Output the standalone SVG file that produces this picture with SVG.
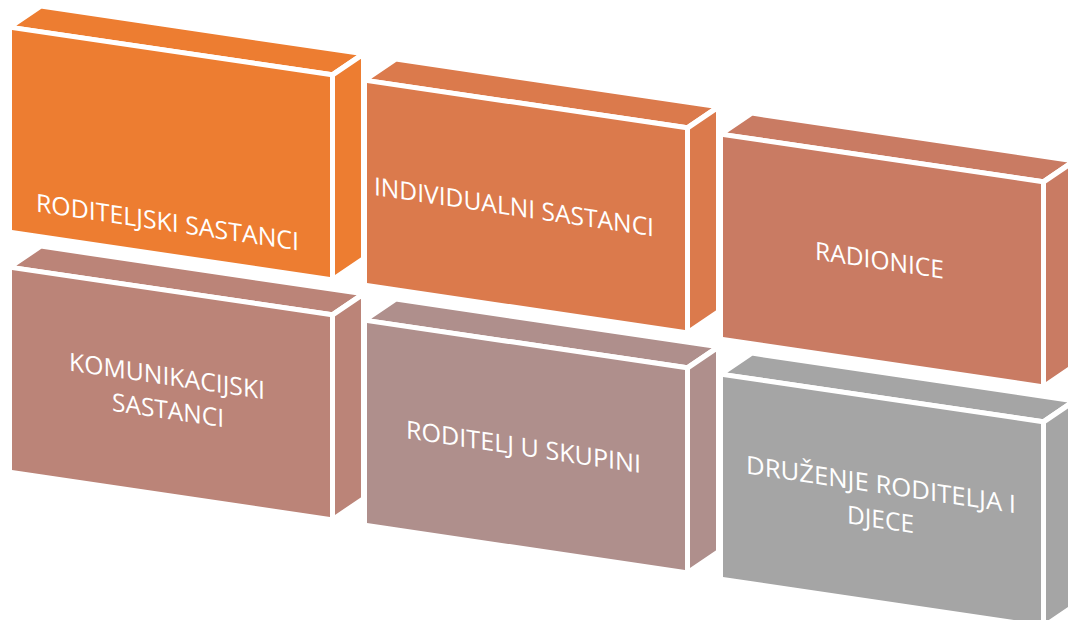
<svg xmlns="http://www.w3.org/2000/svg" width="1068" height="620" viewBox="0 0 1068 620">
  <style>
    .face { stroke: #FFFFFF; stroke-width: 5; stroke-linejoin: round; }
    .lbl { font-family: "Open Sans", "Liberation Sans", sans-serif; font-size: 25px; fill: #FFFFFF; text-anchor: middle; }
    .c1 { fill: #ED7D31; }
    .c2 { fill: #DB7A4C; }
    .c3 { fill: #C97B63; }
    .c4 { fill: #BB8478; }
    .c5 { fill: #AF8F8C; }
    .c6 { fill: #A5A5A5; }
  </style>
  <defs>
    <g id="boxShape">
      <polygon class="face" points="-2.5,-2.5 320.5,-2.5 351.5,-28.1 28.5,-28.1"/>
      <polygon class="face" points="320.5,-2.5 351.5,-28.1 351.5,176.9 320.5,202.5"/>
      <rect class="face" x="-2.5" y="-2.5" width="323" height="205"/>
    </g>
  </defs>
  <rect x="0" y="0" width="1068" height="620" fill="#FFFFFF"/>
  <g id="connectors"/>
  <g id="box4" class="c4" transform="matrix(1 0.1478 0 1 12 270)">
    <use href="#boxShape"/>
    <text class="lbl" x="155" y="92" textLength="196" lengthAdjust="spacingAndGlyphs">KOMUNIKACIJSKI</text>
    <text class="lbl" x="156" y="126" textLength="112" lengthAdjust="spacingAndGlyphs">SASTANCI</text>
  </g>
  <g id="box5" class="c5" transform="matrix(1 0.1478 0 1 367 323)">
    <use href="#boxShape"/>
    <text class="lbl" x="156.5" y="109.5" textLength="235" lengthAdjust="spacingAndGlyphs">RODITELJ U SKUPINI</text>
  </g>
  <g id="box6" class="c6" transform="matrix(1 0.1478 0 1 723 377)">
    <use href="#boxShape"/>
    <text class="lbl" x="158" y="93" textLength="270" lengthAdjust="spacingAndGlyphs">DRUŽENJE RODITELJA I</text>
    <text class="lbl" x="157.5" y="128" textLength="67" lengthAdjust="spacingAndGlyphs">DJECE</text>
  </g>
  <g id="box1" class="c1" transform="matrix(1 0.1478 0 1 12 30)">
    <use href="#boxShape"/>
    <text class="lbl" x="155.5" y="178" textLength="263" lengthAdjust="spacingAndGlyphs">RODITELJSKI SASTANCI</text>
  </g>
  <g id="box2" class="c2" transform="matrix(1 0.1478 0 1 367 83)">
    <use href="#boxShape"/>
    <text class="lbl" x="147" y="111" textLength="280" lengthAdjust="spacingAndGlyphs">INDIVIDUALNI SASTANCI</text>
  </g>
  <g id="box3" class="c3" transform="matrix(1 0.1478 0 1 723 137)">
    <use href="#boxShape"/>
    <text class="lbl" x="156.5" y="109" textLength="129" lengthAdjust="spacingAndGlyphs">RADIONICE</text>
  </g>
</svg>
